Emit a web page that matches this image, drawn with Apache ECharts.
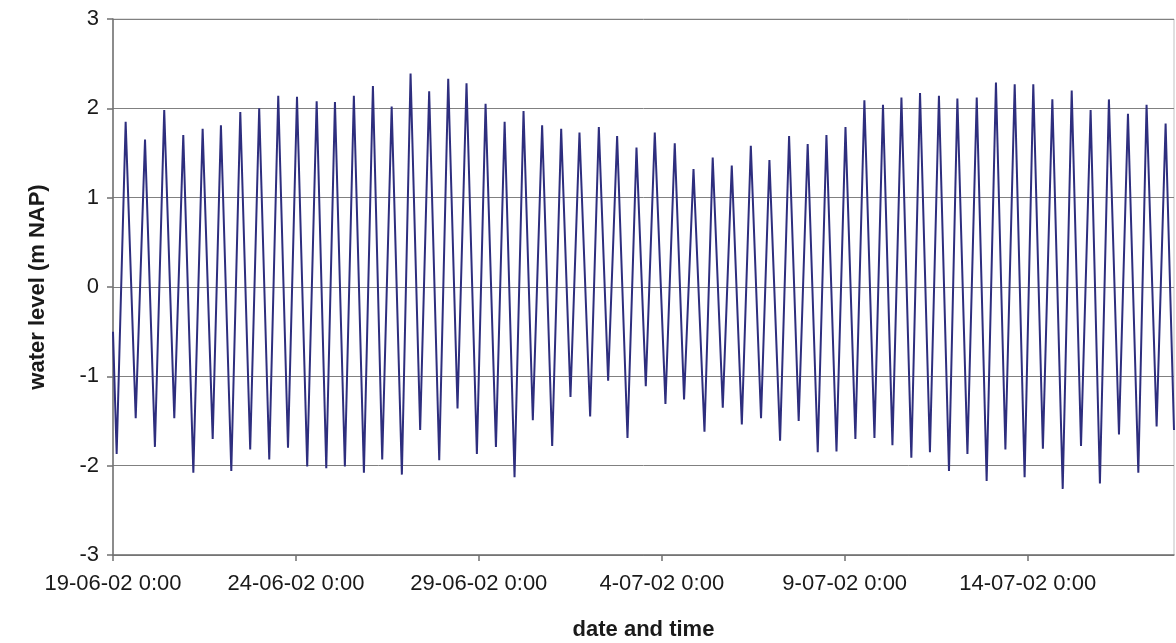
<!DOCTYPE html>
<html>
<head>
<meta charset="utf-8">
<script src="https://cdn.jsdelivr.net/npm/echarts@6/dist/echarts.min.js"></script>
<style>html,body{margin:0;padding:0;background:#fff}#c{width:1176px;height:643px}</style>
</head>
<body>
<div id="c"></div>
<script>
// Hours since 19-06-2002 0:00 of the turning points of the tide curve
const tideHours = [0, 2.4, 8.3, 14.9, 21.0, 27.5, 33.6, 40.2, 46.1, 52.7, 58.8,
  65.4, 70.8, 77.6, 83.5, 90.0, 95.9, 102.5, 108.4, 114.8, 120.7,
  127.4, 133.6, 139.9, 145.6, 152.1, 158.0, 164.6, 170.5, 176.6, 182.8,
  189.5, 195.2, 201.5, 207.4, 214.0, 219.9, 226.0, 231.9, 238.7, 244.4,
  251.2, 256.9, 263.4, 269.3, 275.4, 281.5, 288.1, 294.0, 300.1, 306.0,
  313.0, 318.7, 324.8, 330.7, 337.5, 343.4, 349.5, 355.4, 362.4, 368.5,
  374.6, 380.8, 388.0, 393.4, 400.0, 405.9, 412.5, 418.4, 425.1, 430.6,
  437.6, 443.5, 449.8, 455.7, 462.3, 468.0, 474.6, 480.5, 487.0, 492.9,
  499.5, 505.1, 511.3, 517.2, 523.7, 529.4, 535.9, 541.8, 548.4, 553.9,
  560.5, 566.6, 573.1, 579.2, 585.4, 591.5, 598.0, 603.7, 610.0, 616.2,
  623.0, 628.9, 635.0, 641.3, 647.4, 653.3, 659.9, 665.8, 672.6, 678.0,
  684.6, 690.5, 696];
// Water level (m NAP) at those times
const tideLevels = [-0.5, -1.87, 1.85, -1.47, 1.65, -1.79, 1.98, -1.47, 1.70, -2.08, 1.77,
  -1.70, 1.81, -2.06, 1.96, -1.82, 2.00, -1.93, 2.14, -1.80, 2.13,
  -2.01, 2.08, -2.03, 2.07, -2.01, 2.14, -2.08, 2.25, -1.93, 2.02,
  -2.10, 2.39, -1.60, 2.19, -1.94, 2.33, -1.36, 2.28, -1.87, 2.05,
  -1.79, 1.85, -2.13, 1.97, -1.49, 1.81, -1.78, 1.77, -1.23, 1.73,
  -1.45, 1.79, -1.05, 1.69, -1.69, 1.56, -1.11, 1.73, -1.31, 1.61,
  -1.26, 1.32, -1.62, 1.45, -1.35, 1.36, -1.54, 1.58, -1.47, 1.42,
  -1.72, 1.69, -1.50, 1.60, -1.85, 1.70, -1.84, 1.79, -1.70, 2.09,
  -1.69, 2.04, -1.77, 2.12, -1.91, 2.17, -1.85, 2.14, -2.06, 2.11,
  -1.87, 2.12, -2.17, 2.29, -1.82, 2.27, -2.13, 2.27, -1.81, 2.10,
  -2.26, 2.20, -1.78, 1.98, -2.20, 2.10, -1.65, 1.94, -2.08, 2.04,
  -1.56, 1.83, -1.60];
const xTickHours = [0, 120, 240, 360, 480, 600];
const xTickLabels = ['19-06-02 0:00', '24-06-02 0:00', '29-06-02 0:00', '4-07-02 0:00', '9-07-02 0:00', '14-07-02 0:00'];
const yTicks = [-3, -2, -1, 0, 1, 2, 3];

const seriesData = tideHours.map((h, i) => [h, tideLevels[i]]);
const FONT = '"Liberation Sans", Arial, sans-serif';

const chart = echarts.init(document.getElementById('c'), null, {renderer: 'canvas'});
chart.setOption({
  animation: false,
  backgroundColor: '#ffffff',
  grid: {left: 113, right: 2, top: 19, bottom: 88, containLabel: false, outerBoundsMode: 'none',
    show: true, borderColor: '#c0c0c0', borderWidth: 1, backgroundColor: 'transparent'},
  xAxis: {
    type: 'value', min: 0, max: 696, interval: 120,
    name: 'date and time', nameLocation: 'middle', nameGap: 64,
    nameTextStyle: {fontFamily: FONT, fontSize: 22, fontWeight: 'bold', color: '#1a1a1a'},
    axisLine: {show: true, onZero: false, lineStyle: {color: '#707070', width: 1.5}},
    axisTick: {show: true, length: 6, inside: false, customValues: xTickHours, lineStyle: {color: '#707070', width: 1.5}},
    axisLabel: {customValues: xTickHours, margin: 18, fontFamily: FONT, fontSize: 22, color: '#1a1a1a',
      formatter: v => { const i = xTickHours.indexOf(v); return i >= 0 ? xTickLabels[i] : ''; }},
    splitLine: {show: false}
  },
  yAxis: {
    type: 'value', min: yTicks[0], max: yTicks[yTicks.length - 1], interval: 1,
    name: 'water level (m NAP)', nameLocation: 'middle', nameGap: 64, nameRotate: 90,
    nameTextStyle: {fontFamily: FONT, fontSize: 22, fontWeight: 'bold', color: '#1a1a1a'},
    axisLine: {show: true, lineStyle: {color: '#707070', width: 1.5}},
    axisTick: {show: true, length: 6, lineStyle: {color: '#707070', width: 1.5}},
    axisLabel: {margin: 14, fontFamily: FONT, fontSize: 22, color: '#1a1a1a'},
    splitLine: {show: true, lineStyle: {color: '#808080', width: 1}}
  },
  series: [{
    type: 'line', data: seriesData, showSymbol: false, symbol: 'none',
    lineStyle: {color: '#2e2e7e', width: 2}, smooth: false, clip: true
  }]
});
</script>
</body>
</html>
